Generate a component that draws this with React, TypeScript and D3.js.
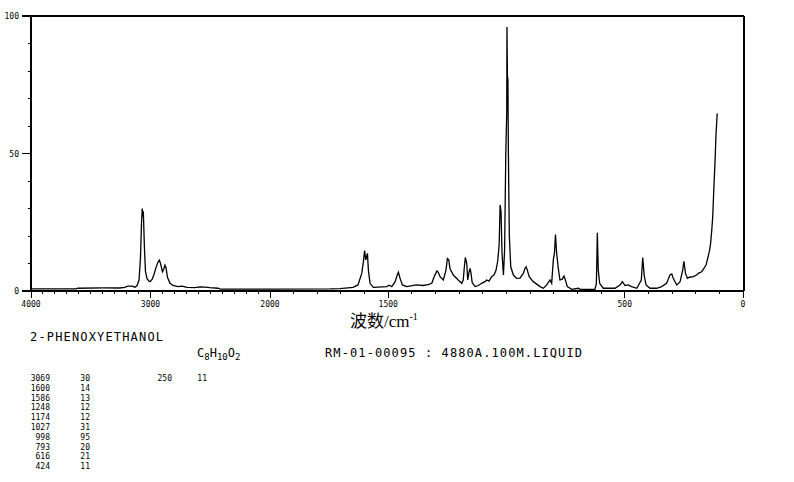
import React from 'react';
import * as d3 from 'd3';

// Raman spectrum of 2-phenoxyethanol, [wavenumber cm-1, relative intensity]
const spectrum: [number, number][] = [
  [4000, 0.8], [3620, 0.8], [3610, 1.0], [3400, 1.1], [3260, 1.1], [3215, 1.3],
  [3190, 1.8], [3155, 1.8], [3130, 1.4], [3112, 2.0], [3096, 4], [3084, 12],
  [3075, 25], [3069, 30], [3064, 27], [3060, 29], [3051, 16], [3042, 7],
  [3029, 4.5], [3013, 3.6], [3004, 3.4], [2987, 4.2], [2971, 6], [2954, 8.5],
  [2937, 10.5], [2926, 11.2], [2916, 10], [2900, 7], [2890, 7.8], [2879, 9.4],
  [2870, 8.5], [2858, 5], [2837, 2.8], [2812, 2.0], [2770, 1.6], [2736, 1.8],
  [2695, 1.3], [2628, 1.2], [2586, 1.5], [2544, 1.4], [2502, 1.2], [2435, 1.0],
  [2418, 0.7], [2000, 0.7], [1746, 0.8], [1704, 0.9], [1649, 1.3], [1628, 2.2],
  [1612, 6.4], [1605, 10.7], [1600, 14.7], [1595, 11.3], [1588, 13.7], [1584, 7.6],
  [1577, 2.8], [1563, 1.3], [1506, 1.6], [1497, 2.1], [1485, 1.6], [1471, 3.4],
  [1462, 5.8], [1457, 6.8], [1450, 4.6], [1440, 2.2], [1422, 1.6], [1380, 2.2],
  [1353, 2.0], [1331, 2.3], [1316, 2.8], [1306, 5.2], [1299, 6.4], [1294, 7.3],
  [1288, 6.7], [1281, 5.2], [1267, 4.0], [1256, 7.6], [1250, 11.8], [1244, 11.3],
  [1239, 8.2], [1225, 5.8], [1204, 4.0], [1189, 2.8], [1183, 4.0], [1178, 8.9],
  [1174, 12.2], [1168, 10], [1164, 4.0], [1158, 7.0], [1154, 8.2], [1150, 6.4],
  [1145, 3.0], [1133, 1.6], [1119, 2.0], [1105, 2.8], [1091, 3.4], [1084, 4.0],
  [1074, 3.6], [1063, 5.2], [1053, 5.8], [1044, 7.6], [1037, 11], [1031, 17],
  [1027, 31.3], [1023, 28.8], [1019, 13.8], [1013, 5.8], [1008, 15], [1003, 50],
  [999, 65], [998, 96], [996, 78], [994, 77], [992, 50], [988, 19.7], [982, 8.8],
  [971, 5.8], [957, 4.6], [943, 4.7], [929, 6.4], [922, 8.2], [917, 8.8],
  [912, 7.6], [904, 5.2], [887, 3.4], [858, 1.6], [844, 1.0], [830, 2.2],
  [816, 4.0], [809, 2.8], [802, 11.3], [797, 14], [793, 20.5], [788, 13.8],
  [781, 8.2], [774, 4.0], [764, 4.3], [757, 5.4], [751, 4.0], [743, 1.6],
  [724, 0.6], [696, 1.0], [689, 0.6], [626, 0.6], [620, 2.8], [618, 11.3],
  [616, 21.2], [612, 7.6], [606, 2.8], [591, 1.0], [541, 1.0], [520, 2.2],
  [510, 3.4], [499, 2.0], [485, 2.2], [471, 1.6], [449, 1.0], [430, 4.0],
  [424, 12.2], [418, 5.8], [410, 2.2], [393, 1.0], [365, 1.0], [344, 1.6],
  [323, 2.8], [309, 5.8], [301, 6.2], [295, 4.6], [280, 2.2], [266, 3.4],
  [255, 7.6], [250, 10.8], [243, 6.4], [235, 4.6], [227, 5.0], [210, 5.2],
  [196, 5.8], [189, 6.4], [175, 7.0], [165, 8.2], [156, 9.5], [149, 12],
  [142, 14.5], [137, 17.3], [132, 22.2], [128, 27], [123, 37.9], [118, 47.6],
  [114, 57.3], [109, 64.6],
];

const xMajorTicks = [4000, 3000, 2000, 1500, 500, 0];
const xTickLabels = ['4000', '3000', '2000', '1500', '500', '0'];
const yMajorTicks = [0, 50, 100];
const yTickLabels = ['0', '50', '100'];

const peakWn = [3069, 1600, 1586, 1248, 1174, 1027, 998, 793, 616, 424];
const peakInt = [30, 14, 13, 12, 12, 31, 95, 20, 21, 11];
const peakWn2 = [250];
const peakInt2 = [11];

const compoundName = '2-PHENOXYETHANOL';
const sampleInfo = 'RM-01-00095 : 4880A.100M.LIQUID';

const W = 794;
const H = 482;
const left = 31;
const right = 744;
const top = 16;
const bottom = 291;

const mono = '"DejaVu Sans Mono", monospace';

export default function App() {
  // scale changes at 2000 cm-1 (high range compressed by half)
  const x = d3.scaleLinear().domain([4000, 2000, 0]).range([left, 270, 743]);
  const y = d3.scaleLinear().domain([0, 100]).range([bottom, top]);

  const line = d3
    .line<[number, number]>()
    .x((d) => x(d[0]))
    .y((d) => y(d[1]));

  const minorX = d3.range(0, 4001, 100);
  const minorY = d3.range(0, 101, 10);

  return (
    <svg
      width={W}
      height={H}
      style={{ position: 'absolute', left: 0, top: 0, background: '#fff' }}
    >
      {/* frame */}
      <g stroke="#000" strokeWidth={1.2} fill="none" shapeRendering="crispEdges">
        <line x1={22} x2={right} y1={top} y2={top} />
        <line x1={22} x2={right} y1={bottom} y2={bottom} />
        <line x1={left} x2={left} y1={top} y2={bottom} />
        <line x1={right} x2={right} y1={top} y2={bottom} />
      </g>

      {/* ticks */}
      <g stroke="#000" strokeWidth={1} shapeRendering="crispEdges">
        {minorX.map((t) => (
          <line key={'mx' + t} x1={x(t)} x2={x(t)} y1={bottom} y2={bottom + 3} />
        ))}
        {xMajorTicks.map((t) => (
          <line key={'Mx' + t} x1={x(t)} x2={x(t)} y1={bottom} y2={bottom + 7} />
        ))}
        {minorY.map((t) => (
          <line key={'my' + t} x1={left - 3} x2={left} y1={y(t)} y2={y(t)} />
        ))}
        {yMajorTicks.map((t) => (
          <line key={'My' + t} x1={22} x2={left} y1={y(t)} y2={y(t)} />
        ))}
      </g>

      <g fontFamily={mono} fontSize={8} fill="#000">
        {xMajorTicks.map((t, i) => (
          <text key={'lx' + t} x={x(t)} y={307} textAnchor="middle">
            {xTickLabels[i]}
          </text>
        ))}
        {yMajorTicks.map((t, i) => (
          <text key={'ly' + t} x={19} y={y(t) + 3} textAnchor="end">
            {yTickLabels[i]}
          </text>
        ))}
      </g>

      {/* spectrum */}
      <path d={line(spectrum) || ''} fill="none" stroke="#000" strokeWidth={1.3} />

      {/* axis title */}
      <text x={350} y={327} fontSize={17} fill="#000">
        <tspan fontFamily='"Noto Sans CJK SC", sans-serif'>波数</tspan>
        <tspan fontFamily='"Liberation Serif", serif'>/cm</tspan>
        <tspan fontFamily='"Liberation Serif", serif' fontSize={10} dy={-7}>
          -1
        </tspan>
      </text>

      {/* compound info */}
      <g fontFamily={mono} fill="#000">
        <text x={30} y={341} fontSize={12} textLength={133} lengthAdjust="spacing">
          {compoundName}
        </text>
        <text x={197} y={357} fontSize={12}>
          C<tspan fontSize={9} dy={3}>8</tspan>
          <tspan dy={-3}>H</tspan>
          <tspan fontSize={9} dy={3}>10</tspan>
          <tspan dy={-3}>O</tspan>
          <tspan fontSize={9} dy={3}>2</tspan>
        </text>
        <text x={325} y={357} fontSize={12} textLength={257} lengthAdjust="spacing">
          {sampleInfo}
        </text>
      </g>

      {/* peak table */}
      <g fontFamily={mono} fontSize={8} fill="#000">
        {peakWn.map((p, i) => (
          <g key={'p' + i}>
            <text x={50} y={381 + i * 9.8} textAnchor="end">{p}</text>
            <text x={90} y={381 + i * 9.8} textAnchor="end">{peakInt[i]}</text>
          </g>
        ))}
        {peakWn2.map((p, i) => (
          <g key={'q' + i}>
            <text x={172} y={381 + i * 9.8} textAnchor="end">{p}</text>
            <text x={207} y={381 + i * 9.8} textAnchor="end">{peakInt2[i]}</text>
          </g>
        ))}
      </g>
    </svg>
  );
}
